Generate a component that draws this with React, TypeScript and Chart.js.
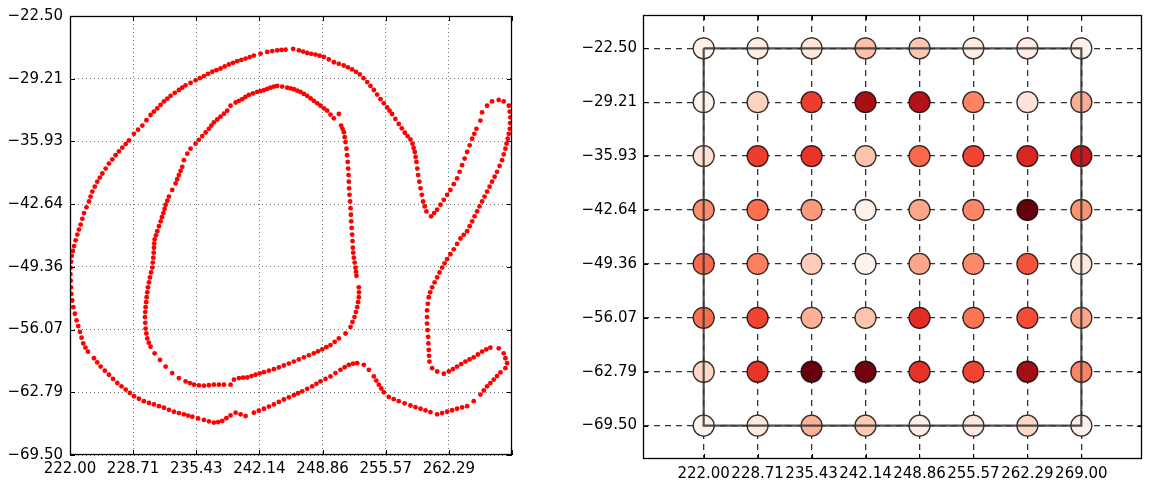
import React, { useEffect, useRef } from 'react';
import { Chart, registerables } from 'chart.js';

Chart.register(...registerables);

// ---------- tick values ----------
const xTickValues = [222.0, 228.71, 235.43, 242.14, 248.86, 255.57, 262.29, 269.0];
const yTickValues = [-22.5, -29.21, -35.93, -42.64, -49.36, -56.07, -62.79, -69.5];
const leftXTickValues = [222.0, 228.71, 235.43, 242.14, 248.86, 255.57, 262.29];

// ---------- left panel: track points (outer loop, then inner loop) ----------
const outerTrack: [number, number][] = [
  [258.20, -35.72], [257.90, -35.36], [257.60, -35.00], [257.28, -34.53], [256.96, -34.05],
  [256.60, -33.52], [256.25, -32.99], [255.98, -32.64], [255.72, -32.29], [255.37, -31.85],
  [255.02, -31.40], [254.66, -30.91], [254.31, -30.42], [253.95, -29.99], [253.60, -29.57],
  [253.21, -29.16], [252.82, -28.75], [252.41, -28.48], [252.00, -28.22], [251.55, -28.00],
  [251.10, -27.80], [250.58, -27.62], [250.06, -27.45], [249.52, -27.15], [248.99, -26.88],
  [248.55, -26.75], [248.11, -26.63], [247.66, -26.55], [247.22, -26.46], [246.78, -26.31],
  [246.34, -26.17], [245.73, -26.03], [244.92, -26.10], [244.48, -26.13], [244.03, -26.17],
  [243.50, -26.26], [242.97, -26.35], [242.26, -26.53], [241.55, -26.74], [241.11, -26.90],
  [240.67, -27.06], [240.22, -27.20], [239.78, -27.34], [239.34, -27.51], [238.90, -27.69],
  [238.45, -27.90], [238.01, -28.12], [237.57, -28.30], [237.13, -28.47], [236.68, -28.70],
  [236.24, -28.93], [235.80, -29.16], [235.35, -29.39], [234.82, -29.66], [234.29, -29.92],
  [233.93, -30.17], [233.58, -30.42], [233.14, -30.73], [232.70, -31.05], [232.35, -31.35],
  [231.99, -31.65], [231.63, -32.02], [231.28, -32.39], [230.92, -32.74], [230.57, -33.10],
  [230.13, -33.66], [229.69, -34.23], [229.24, -34.67], [228.80, -35.11], [228.27, -35.82],
  [227.92, -36.21], [227.56, -36.60], [227.20, -37.00], [226.85, -37.41], [226.50, -37.85],
  [226.14, -38.30], [225.79, -38.83], [225.44, -39.36], [225.17, -39.80], [224.90, -40.24],
  [224.63, -40.77], [224.37, -41.30], [224.19, -41.83], [224.02, -42.36], [223.75, -42.98],
  [223.49, -43.60], [223.31, -44.22], [223.13, -44.83], [222.95, -45.37], [222.78, -45.90],
  [222.60, -46.52], [222.43, -47.13], [222.30, -47.66], [222.18, -48.19], [222.11, -48.81],
  [222.07, -49.43], [222.05, -50.13], [222.07, -50.84], [222.10, -51.55], [222.14, -52.25],
  [222.23, -52.96], [222.35, -53.67], [222.52, -54.38], [222.70, -55.08], [222.88, -55.70],
  [223.06, -56.32], [223.23, -56.94], [223.41, -57.55], [223.64, -58.00], [223.91, -58.44],
  [224.55, -59.14], [224.90, -59.59], [225.26, -60.03], [225.70, -60.47], [226.14, -60.91],
  [226.58, -61.35], [227.03, -61.79], [227.48, -62.15], [227.92, -62.50], [228.36, -62.86],
  [228.80, -63.21], [229.33, -63.48], [229.86, -63.74], [230.40, -63.92], [230.93, -64.09],
  [231.46, -64.27], [231.99, -64.44], [232.52, -64.66], [233.05, -64.87], [233.58, -65.01],
  [234.11, -65.15], [234.55, -65.28], [235.00, -65.40], [235.62, -65.58], [236.24, -65.75],
  [236.77, -65.89], [237.30, -66.03], [237.75, -65.98], [238.19, -65.86], [238.63, -65.56],
  [239.07, -65.26], [239.61, -64.97], [240.14, -65.15], [240.67, -65.33],
  [241.55, -64.97], [242.08, -64.76], [242.62, -64.55], [243.15, -64.32], [243.68, -64.09],
  [244.21, -63.82], [244.74, -63.56], [245.27, -63.33], [245.80, -63.10], [246.25, -62.89],
  [246.69, -62.68], [247.22, -62.42], [247.75, -62.15], [248.20, -61.88], [248.64, -61.62],
  [249.17, -61.35], [249.70, -61.09], [250.23, -60.73], [250.76, -60.38], [251.21, -60.10],
  [251.65, -59.85], [252.10, -59.72], [252.54, -59.67], [253.24, -59.85], [253.78, -60.38],
  [254.31, -61.09], [254.57, -61.53], [254.84, -61.97], [255.10, -62.38], [255.37, -62.78],
  [255.90, -63.28], [256.43, -63.52], [256.96, -63.74], [257.58, -63.97], [258.20, -64.20],
  [258.73, -64.38], [259.27, -64.55], [259.80, -64.72], [260.33, -64.90], [261.04, -65.15],
  [261.57, -65.01], [262.10, -64.87], [262.63, -64.71], [263.16, -64.55], [263.70, -64.41],
  [264.23, -64.27], [264.93, -63.74], [265.64, -63.03], [266.00, -62.59], [266.35, -62.15],
  [266.70, -61.80], [267.06, -61.44], [267.41, -61.05], [267.77, -60.66], [268.30, -60.20],
  [268.48, -59.67], [268.30, -59.14], [268.12, -58.61], [267.59, -58.08], [266.70, -58.01],
  [266.26, -58.20], [265.82, -58.44], [265.37, -58.74], [264.93, -59.04], [264.49, -59.27],
  [264.05, -59.50], [263.60, -59.77], [263.16, -60.03], [262.72, -60.30], [262.28, -60.56],
  [261.75, -60.80], [261.04, -60.56], [260.51, -60.20], [260.22, -59.50], [260.18, -58.88],
  [260.15, -58.26], [260.11, -57.55], [260.08, -56.85], [260.02, -56.14], [259.97, -55.43],
  [259.96, -54.73], [259.97, -54.02], [260.05, -53.31], [260.15, -52.61], [260.30, -52.08],
  [260.51, -51.55], [260.77, -51.02], [261.04, -50.49], [261.30, -49.96], [261.57, -49.43],
  [261.83, -48.98], [262.10, -48.54], [262.45, -48.01], [262.81, -47.48], [263.16, -46.90],
  [263.52, -46.32], [263.87, -45.93], [264.23, -45.54], [264.50, -45.01], [264.76, -44.48],
  [265.02, -43.95], [265.29, -43.42], [265.55, -42.89], [265.82, -42.36], [266.08, -41.83],
  [266.35, -41.30], [266.62, -40.77], [266.88, -40.24], [267.15, -39.71], [267.41, -39.18],
  [267.68, -38.56], [267.94, -37.94], [268.12, -37.32], [268.30, -36.70], [268.42, -36.17],
  [268.55, -35.64], [268.66, -35.11], [268.76, -34.58], [268.80, -33.96], [268.83, -33.35],
  [268.75, -32.73], [268.66, -32.11], [268.12, -31.65], [267.59, -31.48], [266.88, -31.65],
  [266.35, -32.11], [265.82, -32.82], [265.64, -33.70], [265.22, -34.58], [264.99, -35.11],
  [264.76, -35.64], [264.50, -36.35], [264.23, -37.06], [263.96, -37.76], [263.69, -38.47],
  [263.43, -39.18], [263.16, -39.89], [262.81, -40.51], [262.45, -41.12], [262.10, -41.65],
  [261.75, -42.18], [261.40, -42.71], [261.04, -43.24], [260.72, -43.60], [260.40, -43.95],
  [259.90, -43.42], [259.72, -42.89], [259.55, -42.36], [259.41, -41.65], [259.27, -40.95],
  [259.15, -40.24], [259.02, -39.53], [258.93, -38.83], [258.84, -38.12], [258.75, -37.59],
  [258.66, -37.06], [258.54, -36.62], [258.42, -36.17],
];

const innerTrack: [number, number][] = [
  [250.59, -32.99], [250.06, -33.45], [249.70, -33.05], [249.35, -32.64], [249.00, -32.38],
  [248.64, -32.11], [248.29, -31.85], [247.93, -31.58], [247.58, -31.32], [247.22, -31.05],
  [246.87, -30.84], [246.51, -30.63], [246.16, -30.48], [245.80, -30.34], [245.45, -30.25],
  [245.10, -30.17], [244.56, -30.06], [244.03, -29.99], [243.68, -30.06], [243.32, -30.17],
  [242.97, -30.31], [242.62, -30.45], [242.26, -30.54], [241.91, -30.63], [241.46, -30.79],
  [241.02, -30.95], [240.66, -31.17], [240.31, -31.40], [239.96, -31.58], [239.61, -31.76],
  [239.07, -32.11], [238.72, -32.64], [238.37, -32.96], [238.01, -33.28], [237.66, -33.58],
  [237.30, -33.88], [237.03, -34.23], [236.77, -34.58], [236.42, -34.97], [236.06, -35.36],
  [235.70, -35.76], [235.35, -36.17], [234.82, -36.70], [234.47, -37.24], [234.11, -37.94],
  [233.94, -38.65], [233.76, -39.09], [233.58, -39.53], [233.40, -39.98], [233.23, -40.42],
  [232.87, -41.12], [232.52, -41.83], [232.35, -42.27], [232.17, -42.71], [232.05, -43.15],
  [231.93, -43.60], [231.78, -44.04], [231.64, -44.48], [231.46, -45.01], [231.28, -45.54],
  [231.14, -45.98], [231.00, -46.42], [230.96, -46.86], [230.93, -47.31], [230.90, -47.84],
  [230.86, -48.37], [230.80, -48.90], [230.75, -49.43], [230.62, -49.96], [230.50, -50.49],
  [230.40, -51.02], [230.29, -51.55], [230.22, -52.08], [230.15, -52.61], [230.10, -53.14],
  [230.04, -53.67], [230.00, -54.20], [229.97, -54.73], [230.00, -55.35], [230.04, -55.96],
  [230.12, -56.49], [230.22, -57.02], [230.38, -57.47], [230.57, -57.91], [231.00, -58.61],
  [231.57, -59.32], [232.17, -60.03], [232.87, -60.73], [233.58, -61.26], [234.29, -61.62],
  [234.74, -61.80], [235.18, -61.97], [235.71, -62.05], [236.24, -62.08], [236.77, -62.03],
  [237.30, -61.97], [237.84, -61.97], [238.37, -61.97], [239.07, -61.97], [239.43, -61.44],
  [239.96, -61.26], [240.40, -61.22], [240.85, -61.19], [241.29, -61.05], [241.73, -60.91],
  [242.17, -60.77], [242.62, -60.63], [243.15, -60.47], [243.68, -60.31], [244.21, -60.12],
  [244.74, -59.92], [245.27, -59.71], [245.80, -59.50], [246.33, -59.27], [246.87, -59.04],
  [247.40, -58.83], [247.93, -58.61], [248.37, -58.40], [248.82, -58.19], [249.26, -57.96],
  [249.70, -57.73], [250.15, -57.38], [250.59, -57.02], [251.30, -56.49], [251.83, -55.79],
  [252.04, -55.26], [252.25, -54.73], [252.40, -54.20], [252.54, -53.67], [252.63, -53.14],
  [252.71, -52.61], [252.73, -52.08], [252.71, -51.55],
  [252.46, -50.31], [252.41, -49.87], [252.36, -49.43], [252.27, -48.90], [252.18, -48.37],
  [252.12, -47.84], [252.07, -47.31], [252.04, -46.60], [252.00, -45.90], [251.95, -45.19],
  [251.90, -44.48], [251.87, -43.78], [251.83, -43.07], [251.78, -42.36], [251.72, -41.65],
  [251.68, -40.95], [251.65, -40.24], [251.62, -39.53], [251.58, -38.83], [251.53, -38.12],
  [251.47, -37.41], [251.40, -36.70], [251.30, -36.00], [251.21, -35.47], [251.12, -34.94],
  [250.98, -34.58], [250.83, -34.23],
];

// ---------- right panel: cell values (rows = yTickValues top->bottom, cols = xTickValues) ----------
const cellValues: number[][] = [
  [0.02, 0.05, 0.08, 0.23, 0.21, 0.05, 0.04, 0.03],
  [0.02, 0.17, 0.62, 0.87, 0.83, 0.42, 0.10, 0.29],
  [0.12, 0.62, 0.65, 0.22, 0.50, 0.60, 0.70, 0.75],
  [0.39, 0.48, 0.35, 0.02, 0.31, 0.41, 1.00, 0.37],
  [0.50, 0.43, 0.19, 0.01, 0.31, 0.40, 0.56, 0.08],
  [0.48, 0.60, 0.28, 0.22, 0.67, 0.47, 0.58, 0.31],
  [0.16, 0.65, 1.00, 0.98, 0.66, 0.60, 0.88, 0.42],
  [0.02, 0.07, 0.28, 0.20, 0.04, 0.07, 0.15, 0.03],
];

// bounding rectangle drawn through the grid corners
const rectX = [222.0, 269.0, 269.0, 222.0, 222.0];
const rectY = [-22.5, -22.5, -69.5, -69.5, -22.5];

// ---------- styling helpers ----------
const REDS: number[][] = [
  [255, 245, 240], [254, 224, 210], [252, 187, 161], [252, 146, 114], [251, 106, 74],
  [239, 59, 44], [203, 24, 29], [165, 15, 21], [103, 0, 13],
];
function reds(t: number): string {
  const c = Math.max(0, Math.min(1, t)) * (REDS.length - 1);
  const i = Math.min(REDS.length - 2, Math.floor(c));
  const f = c - i;
  const a = REDS[i], b = REDS[i + 1];
  const m = (k: number) => Math.round(a[k] + (b[k] - a[k]) * f);
  return `rgb(${m(0)},${m(1)},${m(2)})`;
}
const fmt = (v: number) => Number(v).toFixed(2).replace('-', '\u2212');
const FONT = { family: '"DejaVu Sans", sans-serif', size: 15 };

function framePlugin(tx: number[], ty: number[], color: string, lw: number, tl: number) {
  return {
    id: 'frameTicks',
    afterDraw(chart: any) {
      const { ctx, chartArea: a, scales } = chart;
      ctx.save();
      ctx.strokeStyle = color;
      ctx.lineWidth = 1;
      ctx.setLineDash([]);
      ctx.beginPath();
      for (const v of tx) {
        const px = Math.round(scales.x.getPixelForValue(v)) + 0.5;
        ctx.moveTo(px, a.bottom); ctx.lineTo(px, a.bottom - tl);
        ctx.moveTo(px, a.top); ctx.lineTo(px, a.top + tl);
      }
      for (const v of ty) {
        const py = Math.round(scales.y.getPixelForValue(v)) + 0.5;
        ctx.moveTo(a.left, py); ctx.lineTo(a.left + tl, py);
        ctx.moveTo(a.right, py); ctx.lineTo(a.right - tl, py);
      }
      ctx.stroke();
      ctx.lineWidth = lw;
      ctx.strokeRect(a.left + 0.5, a.top + 0.5, a.right - a.left - 1, a.bottom - a.top - 1);
      ctx.restore();
    },
  };
}

function setTicks(values: number[]) {
  return (scale: any) => {
    scale.ticks = values.map((v) => ({ value: v }));
  };
}

export default function App() {
  const leftRef = useRef<HTMLCanvasElement>(null);
  const rightRef = useRef<HTMLCanvasElement>(null);

  useEffect(() => {
    const trackPoints = [...outerTrack, ...innerTrack].map(([x, y]) => ({ x, y }));
    const left = new Chart(leftRef.current!, {
      type: 'scatter',
      data: {
        datasets: [
          {
            data: trackPoints,
            backgroundColor: '#ff0000',
            borderWidth: 0,
            pointRadius: 2.4,
          },
        ],
      },
      options: {
        animation: false,
        responsive: false,
        events: [],
        plugins: { legend: { display: false }, tooltip: { enabled: false } },
        layout: { autoPadding: false, padding: { top: 13, right: 48, left: 0, bottom: 0 } },
        scales: {
          x: {
            type: 'linear',
            min: 222,
            max: 269,
            afterBuildTicks: setTicks(leftXTickValues),
            afterFit: (s: any) => { s.height = 27; },
            grid: { color: 'rgba(0,0,0,0.55)', lineWidth: 1, drawTicks: false },
            border: { display: false, dash: [1, 3] },
            ticks: { font: FONT, color: '#000', padding: 5, autoSkip: false, maxRotation: 0, minRotation: 0, callback: (v: any) => fmt(v) },
          },
          y: {
            type: 'linear',
            min: -69.5,
            max: -22.5,
            afterBuildTicks: setTicks(yTickValues),
            afterFit: (s: any) => { s.width = 70; },
            grid: { color: 'rgba(0,0,0,0.55)', lineWidth: 1, drawTicks: false },
            border: { display: false, dash: [1, 3] },
            ticks: { font: FONT, color: '#000', padding: 7, autoSkip: false, callback: (v: any) => fmt(v) },
          },
        },
      } as any,
      plugins: [framePlugin(xTickValues, yTickValues, '#000', 1.3, 5)],
    });

    const cells: { x: number; y: number }[] = [];
    const colors: string[] = [];
    yTickValues.forEach((yv, r) => {
      xTickValues.forEach((xv, c) => {
        cells.push({ x: xv, y: yv });
        colors.push(reds(cellValues[r][c]));
      });
    });
    const rect = rectX.map((x, i) => ({ x, y: rectY[i] }));

    const right = new Chart(rightRef.current!, {
      type: 'scatter',
      data: {
        datasets: [
          {
            data: rect,
            showLine: true,
            borderColor: 'rgba(50,50,50,0.85)',
            borderWidth: 2.2,
            pointRadius: 0,
            fill: false,
            order: 1,
          },
          {
            data: cells,
            backgroundColor: colors,
            borderColor: 'rgba(0,0,0,0.8)',
            borderWidth: 1.3,
            pointRadius: 10.5,
            order: 2,
          },
        ],
      },
      options: {
        animation: false,
        responsive: false,
        events: [],
        plugins: { legend: { display: false }, tooltip: { enabled: false } },
        layout: { autoPadding: false, padding: { top: 15, right: 7, left: 0, bottom: 0 } },
        scales: {
          x: {
            type: 'linear',
            min: 214.45,
            max: 276.55,
            z: 1,
            afterBuildTicks: setTicks(xTickValues),
            afterFit: (s: any) => { s.height = 23; },
            grid: { color: 'rgba(0,0,0,0.8)', lineWidth: 1.3, drawTicks: false },
            border: { display: false, dash: [6, 5] },
            ticks: { font: FONT, color: '#000', padding: 6, autoSkip: false, maxRotation: 0, minRotation: 0, callback: (v: any) => fmt(v) },
          },
          y: {
            type: 'linear',
            min: -73.66,
            max: -18.35,
            z: 1,
            afterBuildTicks: setTicks(yTickValues),
            afterFit: (s: any) => { s.width = 83; },
            grid: { color: 'rgba(0,0,0,0.8)', lineWidth: 1.3, drawTicks: false },
            border: { display: false, dash: [6, 5] },
            ticks: { font: FONT, color: '#000', padding: 6, autoSkip: false, callback: (v: any) => fmt(v) },
          },
        },
      } as any,
      plugins: [framePlugin(xTickValues, yTickValues, '#000', 1.3, 5)],
    });

    return () => {
      left.destroy();
      right.destroy();
    };
  }, []);

  return (
    <div style={{ position: 'fixed', left: 0, top: 0, width: 1149, height: 482, background: '#fff' }}>
      <canvas ref={leftRef} width={560} height={482} style={{ position: 'absolute', left: 0, top: 0, width: 560, height: 482 }} />
      <canvas ref={rightRef} width={589} height={482} style={{ position: 'absolute', left: 560, top: 0, width: 589, height: 482 }} />
    </div>
  );
}
